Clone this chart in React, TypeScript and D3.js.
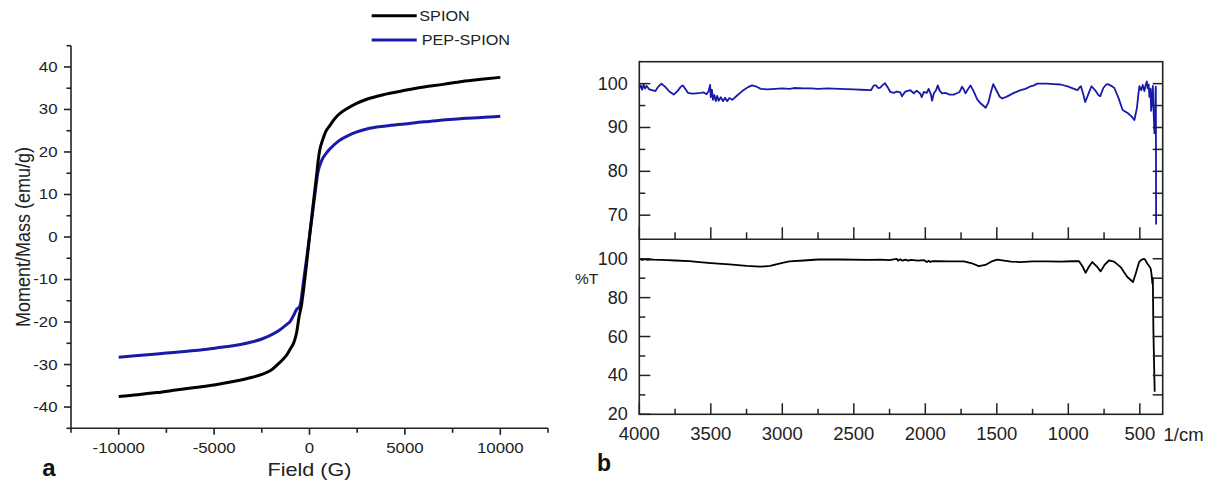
import React from "react";
import * as d3 from "d3";

// ---------- Panel a: magnetization curves ----------
const magField = [-10000, -9000, -8000, -7000, -6000, -5000, -4000, -3000, -2500, -2000, -1650, -1400, -1200, -1000, -800, -680, -545, -420, -300, -150, 0, 150, 300, 367, 450, 540, 700, 850, 1065, 1300, 1500, 2000, 2500, 3000, 4000, 5000, 6000, 7000, 8000, 9000, 10000];
const spionMoment = [-37.5, -37.1, -36.6, -36.0, -35.4, -34.8, -34.0, -33.0, -32.3, -31.3, -29.9, -28.8, -27.8, -26.3, -24.6, -22.6, -18.7, -16.0, -12.0, -6.2, 0, 6.0, 11.8, 14.3, 17.8, 20.5, 23.0, 24.8, 26.2, 27.7, 28.7, 30.3, 31.5, 32.4, 33.6, 34.5, 35.3, 35.9, 36.6, 37.1, 37.55];

const pepField = [-10000, -9000, -8000, -7500, -6000, -4880, -4000, -3132, -2500, -2083, -1600, -1207, -1034, -850, -682, -509, -300, -150, 0, 150, 300, 451, 600, 892, 1200, 1502, 2000, 3000, 4000, 5000, 6000, 7000, 8000, 9000, 10000];
const pepMoment = [-28.3, -27.9, -27.5, -27.3, -26.7, -26.1, -25.6, -24.8, -24.0, -23.2, -22.0, -20.6, -20.0, -18.6, -17.1, -16.3, -10.0, -5.0, 0.2, 5.3, 10.6, 15.4, 17.6, 19.8, 21.3, 22.5, 23.8, 25.4, 26.1, 26.6, 27.1, 27.5, 27.9, 28.1, 28.4];

const magXTicks = [-10000, -5000, 0, 5000, 10000];
const magXMinor = [-12500, -7500, -2500, 2500, 7500, 12500];
const magYTicks = [-40, -30, -20, -10, 0, 10, 20, 30, 40];
const magYMinor = [-45, -35, -25, -15, -5, 5, 15, 25, 35, 45];

const legendNames = ["SPION", "PEP-SPION"];

// ---------- Panel b: FTIR spectra ----------
const pepWave = [4000, 3990, 3980, 3970, 3960, 3950, 3930, 3910, 3887, 3870, 3845, 3820, 3790, 3759, 3730, 3710, 3696, 3680, 3660, 3630, 3600, 3570, 3549, 3530, 3515, 3505, 3500, 3492, 3485, 3475, 3465, 3455, 3445, 3430, 3415, 3400, 3385, 3370, 3350, 3316, 3280, 3240, 3211, 3180, 3150, 3106, 3050, 3000, 2950, 2918, 2850, 2800, 2750, 2685, 2600, 2500, 2450, 2380, 2360, 2345, 2330, 2315, 2300, 2282, 2260, 2245, 2220, 2200, 2175, 2163, 2140, 2105, 2080, 2060, 2035, 2025, 2010, 1990, 1977, 1960, 1953, 1940, 1925, 1913, 1900, 1883, 1860, 1830, 1801, 1780, 1760, 1743, 1730, 1719, 1700, 1684, 1660, 1637, 1610, 1578, 1560, 1540, 1525, 1505, 1480, 1462, 1427, 1380, 1333, 1300, 1270, 1240, 1217, 1150, 1100, 1053, 1000, 960, 936, 920, 912, 895, 882, 860, 838, 810, 790, 777, 755, 735, 725, 700, 678, 650, 620, 600, 585, 560, 538, 520, 510, 503, 490, 480, 468, 460, 451, 445, 438, 433, 425, 421, 415, 409, 405, 398, 392, 390, 388, 386];
const pepT = [98.9, 99.6, 98.6, 99.8, 98.9, 99.5, 98.7, 98.5, 98.3, 99.2, 100.0, 99.3, 98.2, 97.5, 98.4, 99.3, 99.6, 98.9, 97.9, 97.7, 97.8, 97.9, 98.0, 97.6, 98.3, 99.7, 96.9, 98.6, 96.3, 97.4, 96.0, 97.2, 96.1, 96.9, 96.0, 96.8, 96.0, 96.7, 96.3, 97.3, 98.3, 99.2, 99.6, 99.3, 98.8, 98.7, 98.8, 98.9, 98.8, 99.0, 98.9, 98.9, 98.8, 98.9, 98.8, 98.7, 98.6, 98.5, 99.6, 99.6, 99.0, 99.1, 99.6, 100.1, 99.0, 98.1, 97.9, 98.2, 98.0, 97.1, 98.2, 98.5, 97.8, 98.4, 97.7, 96.9, 98.1, 97.9, 98.8, 97.5, 96.1, 97.8, 98.5, 99.6, 98.4, 97.8, 97.9, 97.5, 97.5, 97.8, 98.1, 99.3, 98.6, 97.8, 98.8, 99.6, 98.1, 96.4, 95.4, 94.5, 95.6, 98.2, 99.9, 98.6, 97.0, 96.6, 97.1, 97.9, 98.5, 98.8, 99.3, 99.6, 100.0, 100.0, 99.9, 99.8, 99.3, 98.8, 98.5, 99.2, 99.4, 97.5, 95.8, 97.6, 99.4, 98.4, 97.4, 97.1, 99.0, 99.8, 99.9, 99.5, 99.0, 96.8, 94.0, 93.6, 93.3, 92.6, 91.7, 94.5, 97.6, 99.4, 98.5, 99.7, 98.3, 99.6, 100.5, 98.9, 99.8, 97.0, 98.8, 93.8, 96.2, 99.5, 95.0, 88.7, 90.5, 98.5, 99.3, 67.9];

const spionWave = [4000, 3990, 3980, 3960, 3940, 3920, 3900, 3800, 3750, 3650, 3580, 3500, 3370, 3250, 3155, 3085, 3000, 2950, 2850, 2750, 2600, 2400, 2315, 2250, 2200, 2190, 2175, 2160, 2140, 2120, 2100, 2050, 2010, 1990, 1975, 1965, 1950, 1900, 1847, 1731, 1680, 1626, 1580, 1530, 1497, 1450, 1400, 1334, 1250, 1147, 1050, 980, 926, 900, 879, 855, 832, 800, 774, 745, 716, 680, 634, 610, 587, 565, 548, 530, 505, 490, 470, 460, 447, 435, 424, 418, 412, 409, 405, 400, 396];
const spionT = [99.5, 99.9, 99.4, 99.8, 99.4, 99.7, 99.5, 99.3, 99.1, 98.8, 98.3, 97.8, 97.1, 96.3, 95.9, 96.3, 97.9, 98.6, 99.1, 99.6, 99.6, 99.4, 99.5, 99.3, 99.9, 99.0, 99.7, 99.0, 99.5, 99.0, 99.4, 99.0, 99.3, 98.3, 99.0, 98.3, 98.8, 98.7, 98.6, 98.6, 97.8, 96.2, 96.8, 98.8, 99.5, 99.0, 98.5, 98.3, 98.6, 98.6, 98.5, 98.7, 98.8, 96.0, 92.8, 96.0, 98.3, 96.0, 93.5, 97.0, 99.1, 98.5, 95.7, 93.0, 90.6, 89.2, 88.0, 92.0, 98.3, 99.4, 100.0, 99.2, 97.4, 96.3, 94.9, 92.0, 87.2, 90.0, 63.0, 45.0, 31.6];

const ftirXTicks = [4000, 3500, 3000, 2500, 2000, 1500, 1000, 500];
const ftirXMinor = [3750, 3250, 2750, 2250, 1750, 1250, 750];
const topYTicks = [70, 80, 90, 100];
const topYMinor = [75, 85, 95];
const topYRight = [70, 75, 80, 85, 90, 95, 100];
const botYTicks = [20, 40, 60, 80, 100];
const botYMinor = [30, 50, 70, 90];
const botYRight = [30, 40, 50, 60, 70, 80, 90, 100];

const FONT = "'Liberation Sans', Arial, Helvetica, sans-serif";
const BLUE = "#1a1aa8";
const INK = "#222";

type TP = {
  x: number; y: number; sx?: number; size: number; anchor?: string;
  baseline?: string; weight?: string | number; children: React.ReactNode; fill?: string;
};
function SText({ x, y, sx = 1, size, anchor = "start", baseline = "central", weight = "normal", children, fill = INK }: TP) {
  return (
    <text
      transform={`translate(${x},${y}) scale(${sx},1)`}
      fontSize={size}
      textAnchor={anchor as any}
      dominantBaseline={baseline as any}
      fontWeight={weight as any}
      fontFamily={FONT}
      fill={fill}
    >
      {children}
    </text>
  );
}

function PanelA() {
  const xA = d3.scaleLinear().domain([-12500, 12500]).range([71, 548]);
  const yA = d3.scaleLinear().domain([-45, 45]).range([428.3, 45.7]);
  const line = d3
    .line<[number, number]>()
    .x((d) => xA(d[0]))
    .y((d) => yA(d[1]))
    .curve(d3.curveMonotoneX);
  const spion = magField.map((f, i) => [f, spionMoment[i]] as [number, number]);
  const pep = pepField.map((f, i) => [f, pepMoment[i]] as [number, number]);
  const [x0, x1] = xA.range();
  const [yb, yt] = yA.range();
  const sx = 1.2;
  return (
    <g>
      {/* curves */}
      <path d={line(pep) || ""} fill="none" stroke={BLUE} strokeWidth={3} strokeLinejoin="round" />
      <path d={line(spion) || ""} fill="none" stroke="#000" strokeWidth={3} strokeLinejoin="round" />
      {/* axes */}
      <line x1={x0} x2={x0} y1={yt} y2={yb} stroke={INK} strokeWidth={1.6} />
      <line x1={x0} x2={x1} y1={yb} y2={yb} stroke={INK} strokeWidth={1.6} />
      {magXTicks.map((t) => (
        <line key={"xm" + t} x1={xA(t)} x2={xA(t)} y1={yb} y2={yb + 6.5} stroke={INK} strokeWidth={1.6} />
      ))}
      {magXMinor.map((t) => (
        <line key={"xn" + t} x1={xA(t)} x2={xA(t)} y1={yb} y2={yb + 4.5} stroke={INK} strokeWidth={1.6} />
      ))}
      {magYTicks.map((t) => (
        <line key={"ym" + t} x1={x0 - 7} x2={x0} y1={yA(t)} y2={yA(t)} stroke={INK} strokeWidth={1.6} />
      ))}
      {magYMinor.map((t) => (
        <line key={"yn" + t} x1={x0 - 4.5} x2={x0} y1={yA(t)} y2={yA(t)} stroke={INK} strokeWidth={1.6} />
      ))}
      {magXTicks.map((t) => (
        <SText key={"xl" + t} x={xA(t)} y={448.3} sx={sx} size={14} anchor="middle">
          {String(t)}
        </SText>
      ))}
      {magYTicks.map((t) => (
        <SText key={"yl" + t} x={57.5} y={yA(t)} sx={sx} size={14} anchor="end">
          {String(t)}
        </SText>
      ))}
      <SText x={(x0 + x1) / 2} y={470} sx={sx} size={18} anchor="middle">
        Field (G)
      </SText>
      <text
        transform={`translate(23,${yA(0)}) rotate(-90) scale(1,1.15)`}
        fontSize={18}
        textAnchor="middle"
        dominantBaseline="central"
        fontFamily={FONT}
        fill={INK}
      >
        Moment/Mass (emu/g)
      </text>
      {/* legend */}
      <line x1={371.7} x2={416.7} y1={15.7} y2={15.7} stroke="#000" strokeWidth={3} />
      <line x1={371.7} x2={416.7} y1={40} y2={40} stroke={BLUE} strokeWidth={3} />
      <SText x={419.3} y={16} sx={1.12} size={14.5}>
        {legendNames[0]}
      </SText>
      <SText x={421.7} y={40} sx={1.12} size={14.5}>
        {legendNames[1]}
      </SText>
      <SText x={49} y={476} size={24} anchor="middle" baseline="alphabetic" weight="bold" fill="#111">
        a
      </SText>
    </g>
  );
}

function PanelB() {
  const L = 639.3, R = 1162.7, T = 61.7, M = 239.3, B = 414.3;
  const xB = d3.scaleLinear().domain([4000, 340]).range([L, R]);
  const yTop = d3.scaleLinear().domain([64.5, 105]).range([M, T]);
  const yBot = d3.scaleLinear().domain([20, 110]).range([B, M]);
  const lineTop = d3
    .line<[number, number]>()
    .x((d) => xB(d[0]))
    .y((d) => yTop(d[1]));
  const lineBot = d3
    .line<[number, number]>()
    .x((d) => xB(d[0]))
    .y((d) => yBot(d[1]));
  const pep = pepWave.map((w, i) => [w, pepT[i]] as [number, number]);
  const sp = spionWave.map((w, i) => [w, spionT[i]] as [number, number]);
  const sw = 1.5;
  return (
    <g>
      <path d={lineTop(pep) || ""} fill="none" stroke={BLUE} strokeWidth={1.8} strokeLinejoin="round" />
      <path d={lineBot(sp) || ""} fill="none" stroke="#000" strokeWidth={1.8} strokeLinejoin="round" />
      {/* frame */}
      <rect x={L} y={T} width={R - L} height={B - T} fill="none" stroke={INK} strokeWidth={1.6} />
      <line x1={L} x2={R} y1={M} y2={M} stroke={INK} strokeWidth={1.6} />
      {/* top panel ticks */}
      {topYTicks.map((t) => (
        <line key={"tl" + t} x1={L} x2={L + 11} y1={yTop(t)} y2={yTop(t)} stroke={INK} strokeWidth={sw} />
      ))}
      {topYMinor.map((t) => (
        <line key={"tn" + t} x1={L} x2={L + 6} y1={yTop(t)} y2={yTop(t)} stroke={INK} strokeWidth={sw} />
      ))}
      {topYRight.map((t) => (
        <line key={"tr" + t} x1={R - 10} x2={R} y1={yTop(t)} y2={yTop(t)} stroke={INK} strokeWidth={sw} />
      ))}
      {ftirXTicks.map((t) => (
        <line key={"tx" + t} x1={xB(t)} x2={xB(t)} y1={M} y2={M - 12} stroke={INK} strokeWidth={sw} />
      ))}
      {ftirXMinor.map((t) => (
        <line key={"txn" + t} x1={xB(t)} x2={xB(t)} y1={M} y2={M - 7} stroke={INK} strokeWidth={sw} />
      ))}
      {/* bottom panel ticks */}
      {botYTicks.map((t) => (
        <line key={"bl" + t} x1={L} x2={L + 11} y1={yBot(t)} y2={yBot(t)} stroke={INK} strokeWidth={sw} />
      ))}
      {botYMinor.map((t) => (
        <line key={"bn" + t} x1={L} x2={L + 6} y1={yBot(t)} y2={yBot(t)} stroke={INK} strokeWidth={sw} />
      ))}
      {botYRight.map((t) => (
        <line key={"br" + t} x1={R - 10} x2={R} y1={yBot(t)} y2={yBot(t)} stroke={INK} strokeWidth={sw} />
      ))}
      {ftirXTicks.map((t) => (
        <line key={"bx" + t} x1={xB(t)} x2={xB(t)} y1={B} y2={B - 11} stroke={INK} strokeWidth={sw} />
      ))}
      {ftirXMinor.map((t) => (
        <line key={"bxn" + t} x1={xB(t)} x2={xB(t)} y1={B} y2={B - 5.5} stroke={INK} strokeWidth={sw} />
      ))}
      {/* labels */}
      {topYTicks.map((t) => (
        <SText key={"tyl" + t} x={627.7} y={yTop(t)} size={18} anchor="end">
          {String(t)}
        </SText>
      ))}
      {botYTicks.map((t) => (
        <SText key={"byl" + t} x={627.7} y={yBot(t)} size={18} anchor="end">
          {String(t)}
        </SText>
      ))}
      {ftirXTicks.map((t) => (
        <SText key={"bxl" + t} x={xB(t)} y={433.5} size={18.5} anchor="middle">
          {String(t)}
        </SText>
      ))}
      <SText x={1163.5} y={434} size={18.5}>
        1/cm
      </SText>
      <SText x={586.7} y={278.3} size={15.5} anchor="middle">
        %T
      </SText>
      <SText x={604} y={470.7} size={23} anchor="middle" baseline="alphabetic" weight="bold" fill="#111">
        b
      </SText>
    </g>
  );
}

export default function App() {
  return (
    <svg
      width={1208}
      height={482}
      viewBox="0 0 1208 482"
      style={{ position: "absolute", left: 0, top: 0, background: "#fff" }}
    >
      <rect x={0} y={0} width={1208} height={482} fill="#fff" />
      <PanelA />
      <PanelB />
    </svg>
  );
}
